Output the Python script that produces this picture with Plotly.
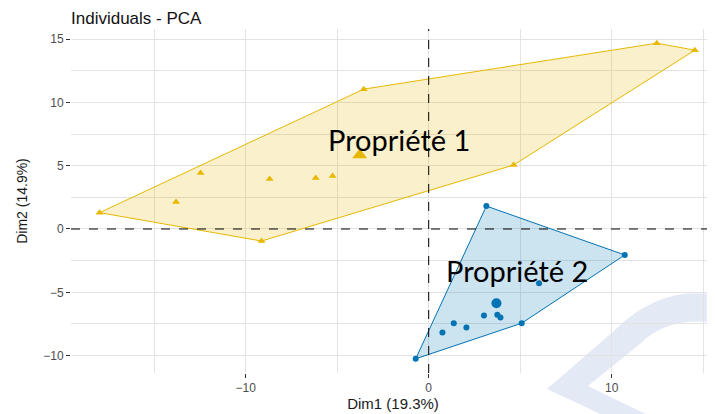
import plotly.graph_objects as go

# ---- data ----
p1_x = [-17.98, -13.8, -12.46, -9.13, -8.69, -6.17, -5.25, -3.55, 4.64, 12.46, 14.54]
p1_y = [1.29, 2.13, 4.42, -0.95, 3.94, 4.02, 4.18, 11.04, 5.05, 14.67, 14.12]
p1_center = (-3.77, 5.84)

p2_x = [3.15, 10.71, 6.03, 3.02, 3.75, 3.92, 1.37, 2.06, 0.75, 5.08, -0.71]
p2_y = [1.81, -2.05, -4.29, -6.83, -6.78, -6.99, -7.44, -7.78, -8.17, -7.44, -10.25]
p2_center = (3.70, -5.86)

group_names = ["Propriété 1", "Propriété 2"]
x_title = "Dim1 (19.3%)"
y_title = "Dim2 (14.9%)"

YELLOW = "#E7B800"
BLUE = "#0073B4"

# the page body has an 8px margin, so the figure is drawn 8px in from the top-left
OFF = 8
W, H = 715 - OFF, 414 - OFF


def hull(xs, ys):
    pts = sorted(set(zip(xs, ys)))
    def cross(o, a, b):
        return (a[0] - o[0]) * (b[1] - o[1]) - (a[1] - o[1]) * (b[0] - o[0])
    lower, upper = [], []
    for p in pts:
        while len(lower) >= 2 and cross(lower[-2], lower[-1], p) <= 0:
            lower.pop()
        lower.append(p)
    for p in reversed(pts):
        while len(upper) >= 2 and cross(upper[-2], upper[-1], p) <= 0:
            upper.pop()
        upper.append(p)
    h = lower[:-1] + upper[:-1]
    h.append(h[0])
    return [p[0] for p in h], [p[1] for p in h]


fig = go.Figure()

for xs, ys, col, fill in [
    (p1_x, p1_y, YELLOW, "rgba(231,184,0,0.2)"),
    (p2_x, p2_y, BLUE, "rgba(0,115,180,0.2)"),
]:
    hx, hy = hull(xs, ys)
    fig.add_trace(go.Scatter(x=hx, y=hy, mode="lines", fill="toself",
                             fillcolor=fill, line=dict(color=col, width=1),
                             hoverinfo="skip", showlegend=False))

fig.add_trace(go.Scatter(x=p1_x, y=p1_y, mode="markers", showlegend=False,
                         marker=dict(symbol="triangle-up", size=7, color=YELLOW)))
fig.add_trace(go.Scatter(x=[p1_center[0]], y=[p1_center[1]], mode="markers", showlegend=False,
                         marker=dict(symbol="triangle-up", size=13, color=YELLOW)))
fig.add_trace(go.Scatter(x=p2_x, y=p2_y, mode="markers", showlegend=False,
                         marker=dict(symbol="circle", size=6, color=BLUE)))
fig.add_trace(go.Scatter(x=[p2_center[0]], y=[p2_center[1]], mode="markers", showlegend=False,
                         marker=dict(symbol="circle", size=10, color=BLUE)))

# dashed reference lines
fig.add_shape(type="line", xref="x", yref="paper", x0=0, x1=0, y0=0, y1=1,
              line=dict(color="black", width=1, dash="dash"))
fig.add_shape(type="line", xref="paper", yref="y", x0=0, x1=1, y0=0, y1=0,
              line=dict(color="black", width=1, dash="dash"))

# light blue decoration in the bottom-right corner (page pixel -> paper)
L, R, T, B = 71, 715, 29, 373
def px(x, y):
    return f"{(x - L) / (R - L):.4f},{(B - y) / (B - T):.4f}"
deco = (f"M {px(613, 420)} L {px(547, 389)} L {px(615, 330)} Q {px(660, 285)} {px(716, 295)} "
        f"L {px(716, 323)} Q {px(668, 316)} {px(640, 344)} L {px(588, 386)} L {px(658, 420)} Z")
fig.add_shape(type="path", xref="paper", yref="paper", path=deco,
              fillcolor="#E3EAF5", line=dict(width=0), layer="below")

# group labels
fig.add_annotation(x=-1.62, y=7.03, text=group_names[0], showarrow=False,
                   font=dict(family="Lato", size=29, color="black"))
fig.add_annotation(x=4.81, y=-3.28, text=group_names[1], showarrow=False,
                   font=dict(family="Lato", size=29, color="black"))

grid = "#E3E3E3"
fig.update_xaxes(range=[-19.54, 15.64], tick0=0, dtick=10, showgrid=True, gridcolor=grid,
                 gridwidth=1, zeroline=False, ticks="outside", ticklen=4, tickcolor="#333333",
                 tickfont=dict(family="Liberation Sans", size=12, color="#4D4D4D"),
                 minor=dict(dtick=5, showgrid=True, gridcolor=grid, gridwidth=1),
                 title=dict(text=x_title, standoff=4,
                            font=dict(family="Liberation Sans", size=15, color="#1A1A1A")))
fig.update_yaxes(range=[-11.37, 15.79], tick0=0, dtick=5, showgrid=True, gridcolor=grid,
                 gridwidth=1, zeroline=False, ticks="outside", ticklen=4, tickcolor="#333333",
                 tickfont=dict(family="Liberation Sans", size=12, color="#4D4D4D"),
                 minor=dict(dtick=2.5, showgrid=True, gridcolor=grid, gridwidth=1),
                 title=dict(text=y_title, standoff=12,
                            font=dict(family="Liberation Sans", size=14, color="#1A1A1A")))

fig.update_layout(
    width=W, height=H,
    margin=dict(l=L - OFF, r=0, t=T - OFF, b=414 - B),
    plot_bgcolor="white", paper_bgcolor="white",
    title=dict(text="Individuals - PCA", x=0, xref="paper", xanchor="left",
               y=1 - (18.5 - OFF) / H, yanchor="middle",
               font=dict(family="Liberation Sans", size=17, color="#111111")),
    showlegend=False,
)

fig.write_html("out.html")
